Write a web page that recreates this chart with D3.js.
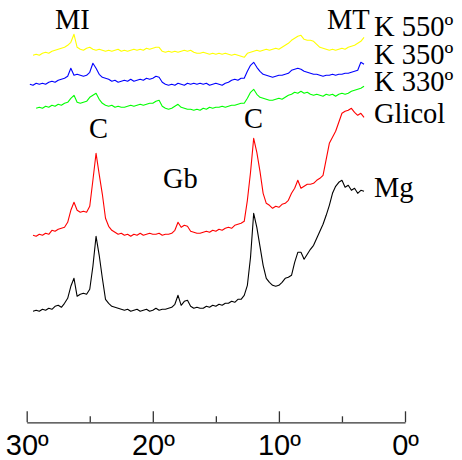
<!DOCTYPE html>
<html><head><meta charset="utf-8">
<script src="https://cdn.jsdelivr.net/npm/d3@7"></script>
<style>body{margin:0;background:#fff}svg{display:block}</style>
</head><body>
<svg id="c" width="462" height="460"></svg>
<script>
// 2-theta angles (degrees)
const angles = [29.75,29.5,29.25,29,28.75,28.5,28.25,28,27.75,27.5,27.25,27,26.75,26.5,26.25,26,25.75,25.5,25.25,25,24.75,24.5,24.25,24,23.75,23.5,23.25,23,22.75,22.5,22.25,22,21.75,21.5,21.25,21,20.75,20.5,20.25,20,19.75,19.5,19.25,19,18.75,18.5,18.25,18,17.75,17.5,17.25,17,16.75,16.5,16.25,16,15.75,15.5,15.25,15,14.75,14.5,14.25,14,13.75,13.5,13.25,13,12.75,12.5,12.25,12,11.75,11.5,11.25,11,10.75,10.5,10.25,10,9.75,9.5,9.25,9,8.75,8.5,8.25,8,7.75,7.5,7.25,7,6.75,6.5,6.25,6,5.75,5.5,5.25,5,4.75,4.5,4.25,4,3.75,3.5,3.25];

const seriesNames = ["Mg","Glicol","K 330º","K 350º","K 550º"];
const seriesColors = ["#000000","#ff0000","#00ff00","#0000ff","#ffff00"];
const seriesOffsets = [111,186,312,336,366];

const mg = [null,0,1,0,2,1,3,2,5,6,4, 8,13,25,33,15,17,18,17,22,45, 75,56,33,12,8,5,4,3,2,1, 2,0,1,2,0,1,2,0,1,3, 1,2,2,3,4,7,16,6,10,11, 5,3,4,3,3,5,4,6,5,7, 6,8,8,10,9,12,12,16,26,54, 98,84,65,46,33,29,26,25,26,29, 33,34,36,49,59,59,52,57,62,66, 73,80,87,96,106,118,125,129,131,124, 126,121,123,118,121,120];
const glicol = [null,1,0,2,1,3,2,6,5,7,8, 9,14,26,34,26,24,25,24,30,56, 83,62,42,18,10,6,4,2,3,1, 2,0,2,1,3,1,2,3,2,2, 3,1,2,2,3,6,14,9,11,10, 5,4,3,3,4,5,4,6,5,7, 6,8,9,8,11,12,13,15,36,64, 98,84,65,43,33,31,28,30,29,32, 33,36,43,48,56,48,50,52,52,53, 56,58,61,77,93,99,105,114,123,125, 126,128,124,121,123,119];
const k330 = [null,null,2,3,2,4,3,5,4,6,5, 7,8,12,15,8,7,8,9,13,15, 17,11,7,5,4,5,3,4,3,3, 4,5,4,5,6,5,6,7,7,9, 10,4,2,1,2,4,6,3,2,1, 1,0,1,0,2,1,3,2,3,3, 4,3,4,5,5,6,7,7,12,18, 21,16,13,12,11,10,10,11,12,11, 13,15,16,18,17,19,17,18,16,15, 16,15,14,16,15,16,14,16,17,16, 17,19,20,21,22,24];
const k350 = [2,1,3,2,3,2,4,5,4,6,7, 8,10,18,11,12,11,10,11,14,23, 18,12,9,8,7,5,6,4,5,6, 5,7,5,6,7,6,8,7,8,10, 9,4,2,1,2,1,3,2,1,3, 2,3,2,3,2,3,1,2,3,2, 1,3,4,6,7,6,8,8,15,21, 24,19,15,12,11,10,9,10,11,11, 12,13,16,17,18,17,15,14,13,12, 12,11,10,11,11,12,11,12,12,13, 13,14,15,16,24,22];
const k550 = [null,1,2,1,3,4,3,5,6,7,8, 9,11,14,22,9,7,6,8,9,7, 6,7,6,5,6,5,6,7,5,6, 5,6,7,6,7,6,8,7,8,9, 9,5,4,5,4,5,4,5,6,5, 6,4,3,3,4,3,2,3,2,3, 2,3,2,1,2,1,0,-1,3,4, 5,6,5,6,7,6,7,8,7,9, 11,13,16,18,20,21,17,16,16,15, 12,9,8,7,6,7,6,7,8,7, 9,10,11,13,15,19];
const seriesValues = [mg, glicol, k330, k350, k550];

const xTicks = [30,20,10,0];
const xMinorTicks = [25,15,5];
const xTickLabels = ["30º","20º","10º","0º"];

const svg = d3.select("#c");
const x = d3.scaleLinear().domain([30,0]).range([26.7,405]);
const y = d3.scaleLinear().domain([0,400]).range([422.3,22.3]);

// traces
seriesValues.forEach((vals, k) => {
  const pts = angles.map((a,i)=>({a, v: vals[i]}));
  const line = d3.line()
    .defined(d => d.v !== null)
    .x(d => x(d.a))
    .y(d => y(seriesOffsets[k] + d.v));
  svg.append("path").datum(pts)
    .attr("d", line)
    .attr("fill","none")
    .attr("stroke", seriesColors[k])
    .attr("stroke-width", 1.1)
    .attr("stroke-linejoin","round");
});

// axis
const axis = d3.axisBottom(x).tickValues(xTicks).tickSizeInner(-11).tickSizeOuter(0)
  .tickFormat((d,i)=>xTickLabels[i]);
const ag = svg.append("g").attr("transform","translate(0,422.3)").call(axis);
ag.select(".domain").attr("stroke","#333").attr("stroke-width",1.3);
ag.selectAll(".tick line").attr("stroke","#333").attr("stroke-width",1.3);
ag.selectAll(".tick text")
  .attr("y", 33).attr("dy", 0)
  .attr("fill","#000")
  .style("font-family","'Liberation Sans', Arial, sans-serif")
  .style("font-size","29px");
const minor = d3.axisBottom(x).tickValues(xMinorTicks).tickSizeInner(-6).tickSizeOuter(0).tickFormat("");
const mg2 = svg.append("g").attr("transform","translate(0,422.3)").call(minor);
mg2.select(".domain").remove();
mg2.selectAll(".tick line").attr("stroke","#333").attr("stroke-width",1.3);

// labels
const serif = "'Liberation Serif', 'Times New Roman', serif";
const labels = [
  {t:"MI", x:55, y:29},
  {t:"MT", x:327, y:29},
  {t:"K 550º", x:374, y:36},
  {t:"K 350º", x:374, y:64},
  {t:"K 330º", x:374, y:91},
  {t:"Glicol", x:374, y:122.5},
  {t:"Mg", x:374, y:196.5},
  {t:"C", x:89, y:138},
  {t:"C", x:244, y:128},
  {t:"Gb", x:163, y:188}
];
svg.append("g").selectAll("text").data(labels).join("text")
  .attr("x", d=>d.x).attr("y", d=>d.y)
  .attr("fill","#000")
  .style("font-family", serif)
  .style("font-size","28.5px")
  .text(d=>d.t);
</script>
</body></html>
